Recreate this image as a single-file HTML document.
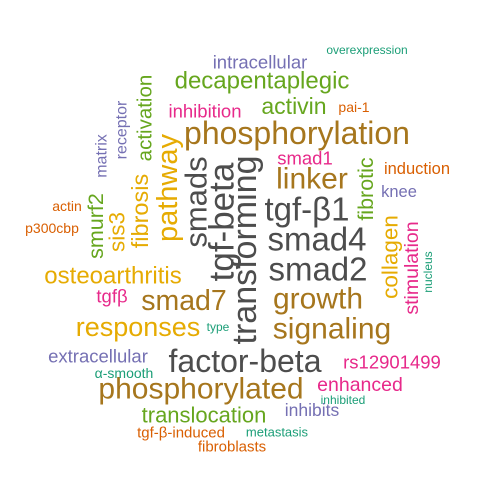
<!DOCTYPE html>
<html><head><meta charset="utf-8"><style>
html,body{margin:0;padding:0;background:#fff;}
svg{display:block;}
text{font-family:"Liberation Sans",Arial,sans-serif;}
</style></head><body>
<svg width="500" height="500" viewBox="0 0 500 500">
<rect width="500" height="500" fill="#fff"/>
<g id="cloud" text-anchor="middle" dominant-baseline="central"></g>
</svg>
<script>
const words = ["overexpression","intracellular","decapentaplegic","activin","pai-1","inhibition","phosphorylation","smad1","induction","linker","knee","tgf-β1","smad4","smad2","growth","signaling","factor-beta","rs12901499","enhanced","inhibited","inhibits","metastasis","fibroblasts","tgf-β-induced","translocation","phosphorylated","α-smooth","extracellular","responses","type","smad7","tgfβ","osteoarthritis","actin","p300cbp","transforming","tgf-beta","smads","pathway","fibrosis","sis3","smurf2","matrix","receptor","activation","fibrotic","collagen","stimulation","nucleus"];
const sizes = [12,18.5,24,23,14,18.5,32,18.5,16.5,30,16.5,33,33,33,30,30,32,18.5,19.5,12,17.5,13,15,15,22,30,14,18.5,27,12,28.5,18.5,24,14,14,34,35,31,29,23.5,22.5,21.5,16,16,20.5,21.5,22.5,19.5,12];
const colorIdx = [0,2,4,4,1,3,6,3,1,6,2,7,7,7,6,6,7,3,3,0,2,0,1,1,4,6,0,2,5,0,6,3,5,1,1,7,7,7,5,5,5,4,2,2,4,4,5,3,0];
const cx = [367,260,262,294,354,205,297,305,417,312,399,307,317,318,318,332,245,392,360,343,312,277,232,181,204,201,124,98,138,218,184,112,113,67,52,245,222,196,168,140,117,96,102,122,145,366,390,412,428];
const cy = [50,62,81,106,107,111,133,158,169,179,192,209,239,269,299,329,361,362,385,400,410,432,447,433,415,389,373,356,327,327,301,296,276,206,228,250,222,202,188,211,232,226,156,130,118,189,257,268,272];
const rot = [0,0,0,0,0,0,0,0,0,0,0,0,0,0,0,0,0,0,0,0,0,0,0,0,0,0,0,0,0,0,0,0,0,0,0,1,1,1,1,1,1,1,1,1,1,1,1,1,1];
const palette = ["#1B9E77","#D95F02","#7570B3","#E7298A","#66A61E","#E6AB02","#A6761D","#4d4d4d"];
const g = document.getElementById('cloud');
const NS = "http://www.w3.org/2000/svg";
words.forEach((w,i)=>{
  const t = document.createElementNS(NS,'text');
  t.setAttribute('x', cx[i]);
  t.setAttribute('y', cy[i]);
  t.setAttribute('font-size', sizes[i]);
  t.setAttribute('fill', palette[colorIdx[i]]);
  if (rot[i]) t.setAttribute('transform', 'rotate(-90 '+cx[i]+' '+cy[i]+')');
  t.textContent = w;
  
  
  g.appendChild(t);
});
</script>
</body></html>
